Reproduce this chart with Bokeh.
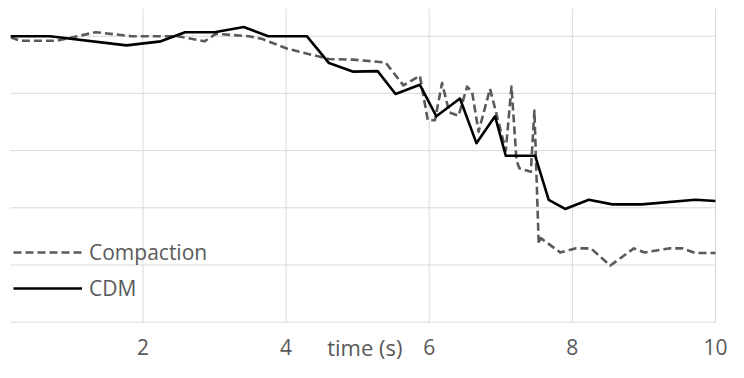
from bokeh.plotting import figure
from bokeh.models import Range1d, Legend, LegendItem
from bokeh.core.properties import value
from bokeh.embed import file_html
from bokeh.resources import INLINE

# ---- data ----
x_ticks = [2, 4, 6, 8, 10]
x_tick_labels = ["2", "4", "6", "8", "10"]
y_grid = [0, 1, 2, 3, 4, 5]

cdm_time = [0.15, 0.70, 1.77, 2.25, 2.59, 3.00, 3.41, 3.75, 4.29, 4.60, 4.94, 5.28, 5.53, 5.87,
            6.10, 6.43, 6.66, 6.92, 7.07, 7.48, 7.67, 7.90, 8.23, 8.56, 8.97, 9.72, 10.0]
cdm_val = [5.00, 5.00, 4.84, 4.91, 5.07, 5.07, 5.16, 5.00, 5.00, 4.53, 4.38, 4.39, 3.99, 4.15,
           3.60, 3.91, 3.13, 3.60, 2.91, 2.91, 2.14, 1.98, 2.14, 2.06, 2.06, 2.14, 2.12]

comp_time = [0.15, 0.29, 0.80, 1.34, 1.84, 2.48, 2.86, 3.02, 3.48, 3.67, 4.02, 4.60, 4.94, 5.39,
             5.64, 5.87, 5.98, 6.08, 6.18, 6.28, 6.41, 6.53, 6.60, 6.69, 6.85, 7.07, 7.15, 7.22,
             7.26, 7.42, 7.47, 7.53, 7.56, 7.83, 8.04, 8.26, 8.53, 8.86, 9.01, 9.35, 9.54, 9.72, 10.0]
comp_val = [4.98, 4.92, 4.92, 5.07, 5.00, 5.00, 4.91, 5.04, 5.00, 4.95, 4.78, 4.60, 4.59, 4.54,
            4.14, 4.31, 3.53, 3.53, 4.18, 3.67, 3.61, 4.12, 4.02, 3.33, 4.08, 3.00, 4.12, 2.83,
            2.69, 2.63, 3.70, 1.37, 1.47, 1.22, 1.29, 1.29, 0.99, 1.29, 1.22, 1.29, 1.29, 1.21, 1.21]

series_names = ["Compaction", "CDM"]
x_label = "time (s)"

FONT = "Open Sans"
TXT = "#595959"
GRID = "#d9d9d9"

X0, X1 = 0.15, 10.182
Y0, Y1 = -0.7045, 5.484
TICK_Y = -0.435
LABEL_Y = -0.44
LABEL_X = 5.1

p = figure(width=728, height=362,
           x_range=Range1d(X0, X1), y_range=Range1d(Y0, Y1),
           output_backend="svg", toolbar_location=None,
           x_axis_location=None, y_axis_location=None,
           min_border_left=10, min_border_right=0, min_border_top=8, min_border_bottom=0)
p.outline_line_color = None
p.background_fill_color = "white"
p.xgrid.visible = False
p.ygrid.visible = False

# gridlines (vertical at x ticks, horizontal at y grid values), stopping at the axis / last tick
p.segment(x0=x_ticks, y0=[0] * len(x_ticks), x1=x_ticks, y1=[Y1] * len(x_ticks),
          line_color=GRID, line_width=1)
p.segment(x0=[X0] * len(y_grid), y0=y_grid, x1=[x_ticks[-1]] * len(y_grid), y1=y_grid,
          line_color=GRID, line_width=1)

# tick labels and axis title
p.text(x=x_ticks, y=[TICK_Y] * len(x_ticks), text=x_tick_labels, text_align="center",
       text_baseline="middle", text_font=value(FONT), text_font_size="21px", text_color=TXT)
p.text(x=[LABEL_X], y=[LABEL_Y], text=[x_label], text_align="center",
       text_baseline="middle", text_font=value(FONT), text_font_size="22px", text_color=TXT)

r_comp = p.line(comp_time, comp_val, line_color="#5a5a5a", line_width=2.6,
                line_dash="8 4", line_join="round")
r_cdm = p.line(cdm_time, cdm_val, line_color="black", line_width=2.6, line_join="round")

legend = Legend(items=[LegendItem(label=series_names[0], renderers=[r_comp]),
                       LegendItem(label=series_names[1], renderers=[r_cdm])],
                location=(3, 56), padding=0, margin=0, spacing=0,
                glyph_width=69, glyph_height=36, label_height=36, label_standoff=7,
                background_fill_alpha=0, border_line_alpha=0,
                label_text_font=FONT, label_text_font_size="21px", label_text_color=TXT)
p.add_layout(legend)

open("out.html", "w").write(file_html(p, INLINE))
